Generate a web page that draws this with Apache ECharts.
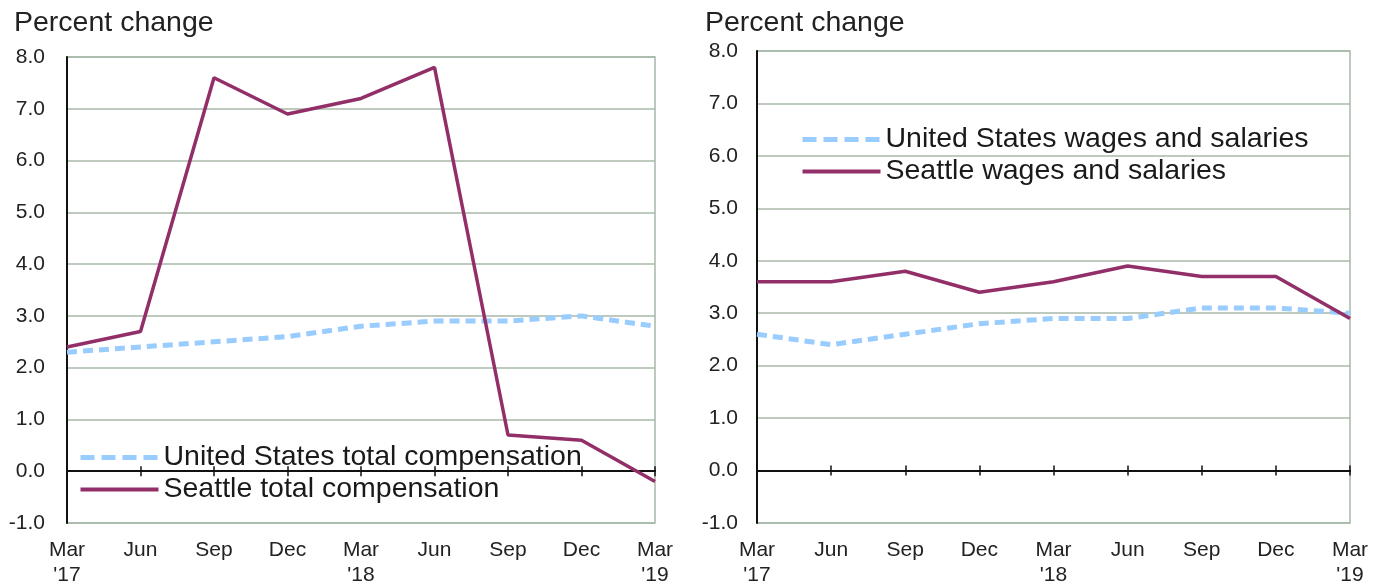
<!DOCTYPE html>
<html>
<head>
<meta charset="utf-8">
<title>Percent change</title>
<script src="https://cdn.jsdelivr.net/npm/echarts@6/dist/echarts.min.js"></script>
<style>
  html, body { margin: 0; padding: 0; background: #fff; }
  #chart { width: 1383px; height: 585px; }
</style>
</head>
<body>
<div id="chart"></div>
<script>
// quarters on the x axis
var quarters = ["Mar\n'17", 'Jun', 'Sep', 'Dec', "Mar\n'18", 'Jun', 'Sep', 'Dec', "Mar\n'19"]
// y tick range
var yMin = -1
var yMax = 8
var yStep = 1

// left panel: total compensation
var usTotalComp = [2.3, 2.4, 2.5, 2.6, 2.8, 2.9, 2.9, 3.0, 2.8]
var seattleTotalComp = [2.4, 2.7, 7.6, 6.9, 7.2, 7.8, 0.7, 0.6, -0.2]

// right panel: wages and salaries
var usWages = [2.6, 2.4, 2.6, 2.8, 2.9, 2.9, 3.1, 3.1, 3.0]
var seattleWages = [3.6, 3.6, 3.8, 3.4, 3.6, 3.9, 3.7, 3.7, 2.9]

var FONT = 'Liberation Sans, Arial, sans-serif'
var GRID_COLOR = '#a8b8a8'
var US_COLOR = '#99ccff'
var SEA_COLOR = '#932f68'
var US_DASH = [10, 6]

var chart = echarts.init(document.getElementById('chart'))

// x axis that carries the labels at the bottom
function labelAxis(gridIndex) {
  return {
    type: 'category',
    gridIndex: gridIndex,
    data: quarters,
    boundaryGap: false,
    position: 'bottom',
    axisLine: { show: false, onZero: false },
    axisTick: { show: false },
    splitLine: { show: false },
    axisLabel: {
      interval: 0,
      margin: 15,
      fontFamily: FONT,
      fontSize: 21,
      lineHeight: 25,
      color: '#222'
    }
  }
}

// black line at zero, ticks go one way per axis
function zeroAxis(gridIndex, pos, yIndex) {
  return {
    type: 'category',
    gridIndex: gridIndex,
    data: quarters,
    boundaryGap: false,
    position: pos,
    axisLine: { show: true, onZero: true, onZeroAxisIndex: yIndex, lineStyle: { color: '#111', width: 2 } },
    axisTick: { show: true, interval: 0, length: 5, lineStyle: { color: '#111', width: 1.5 } },
    axisLabel: { show: false },
    splitLine: { show: false }
  }
}

function valueAxis(gridIndex, margin) {
  return {
    type: 'value',
    gridIndex: gridIndex,
    min: yMin,
    max: yMax,
    interval: yStep,
    axisLine: { show: true, onZero: false, lineStyle: { color: '#111', width: 2 } },
    axisTick: { show: false },
    splitLine: { show: true, lineStyle: { color: GRID_COLOR, width: 1.5 } },
    axisLabel: {
      margin: margin,
      fontFamily: FONT,
      fontSize: 21,
      color: '#222',
      formatter: function (v) { return v.toFixed(1) }
    }
  }
}

// invisible twin y axis, only used so the upward ticks can sit on zero too
function twinAxis(gridIndex) {
  return {
    type: 'value',
    gridIndex: gridIndex,
    min: yMin,
    max: yMax,
    interval: yStep,
    position: 'right',
    axisLine: { show: false, onZero: false },
    axisTick: { show: false },
    axisLabel: { show: false },
    splitLine: { show: false }
  }
}

function usSeries(name, data, xi, yi) {
  return {
    name: name,
    type: 'line',
    xAxisIndex: xi,
    yAxisIndex: yi,
    data: data,
    symbol: 'none',
    lineStyle: { color: US_COLOR, width: 5, type: US_DASH },
    itemStyle: { color: US_COLOR },
    z: 3
  }
}

function seaSeries(name, data, xi, yi) {
  return {
    name: name,
    type: 'line',
    xAxisIndex: xi,
    yAxisIndex: yi,
    data: data,
    symbol: 'none',
    lineStyle: { color: SEA_COLOR, width: 3.5 },
    itemStyle: { color: SEA_COLOR },
    z: 4
  }
}

function legendBox(usName, seaName, left, top) {
  return {
    data: [
      { name: usName, lineStyle: { color: US_COLOR, width: 5, type: [14, 7] } },
      { name: seaName, lineStyle: { color: SEA_COLOR, width: 4, type: 'solid' } }
    ],
    orient: 'vertical',
    left: left,
    top: top,
    itemWidth: 78,
    itemHeight: 14,
    itemGap: 1,
    selectedMode: false,
    itemStyle: { opacity: 0 },
    textStyle: { fontFamily: FONT, fontSize: 28.5, lineHeight: 31, color: '#1a1a1a' }
  }
}

var titleStyle = { fontFamily: FONT, fontSize: 28.5, fontWeight: 'normal', color: '#222' }

chart.setOption({
  animation: false,
  backgroundColor: '#fff',
  title: [
    { text: 'Percent change', left: 9, top: 4, textStyle: titleStyle },
    { text: 'Percent change', left: 700, top: 4, textStyle: titleStyle }
  ],
  legend: [
    legendBox('United States total compensation', 'Seattle total compensation', 73, 437),
    legendBox('United States wages and salaries', 'Seattle wages and salaries', 795, 119)
  ],
  grid: [
    { left: 67, right: 728, top: 57, bottom: 62, show: true, borderColor: GRID_COLOR, borderWidth: 1.5, containLabel: false, outerBoundsMode: 'none' },
    { left: 757, right: 33, top: 51, bottom: 62, show: true, borderColor: GRID_COLOR, borderWidth: 1.5, containLabel: false, outerBoundsMode: 'none' }
  ],
  xAxis: [
    labelAxis(0),
    zeroAxis(0, 'bottom', 0),
    zeroAxis(0, 'top', 1),
    labelAxis(1),
    zeroAxis(1, 'bottom', 2),
    zeroAxis(1, 'top', 3)
  ],
  yAxis: [
    valueAxis(0, 22),
    twinAxis(0),
    valueAxis(1, 19),
    twinAxis(1)
  ],
  series: [
    usSeries('United States total compensation', usTotalComp, 0, 0),
    seaSeries('Seattle total compensation', seattleTotalComp, 0, 0),
    usSeries('United States wages and salaries', usWages, 3, 2),
    seaSeries('Seattle wages and salaries', seattleWages, 3, 2)
  ]
})
</script>
</body>
</html>
